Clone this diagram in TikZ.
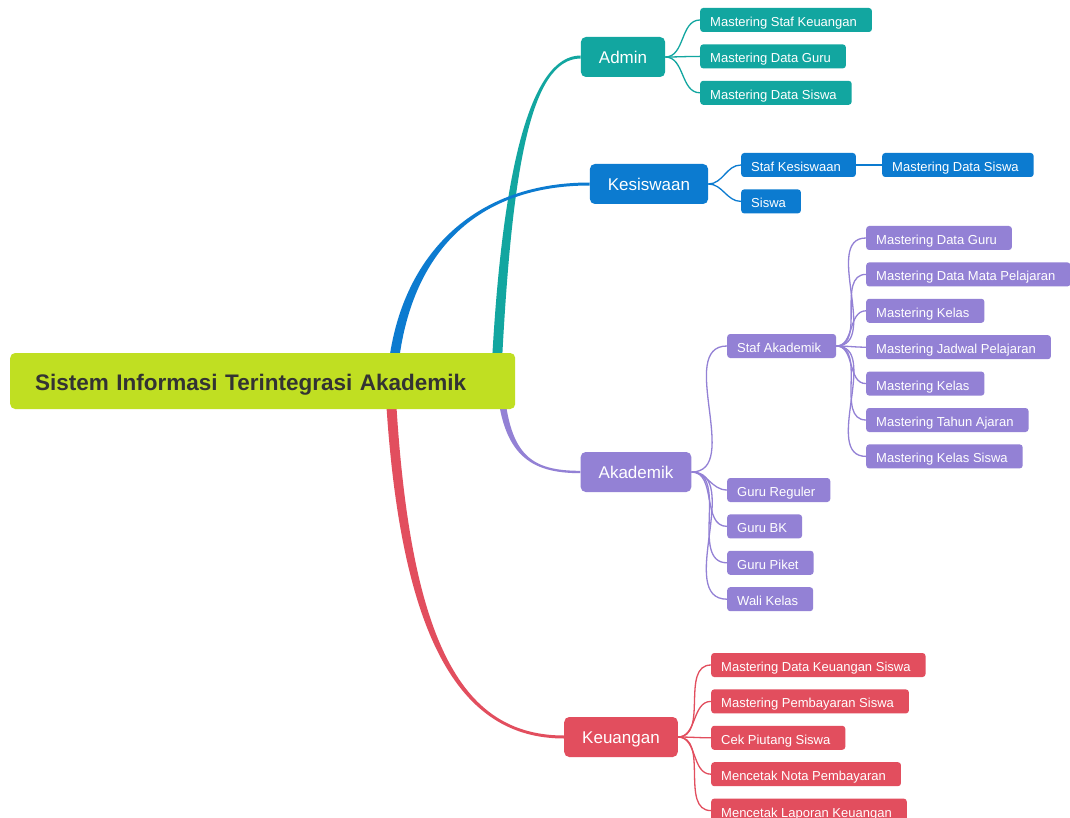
\documentclass[tikz,border=0pt]{standalone}
\usepackage{fontspec}
\setmainfont{Liberation Sans}
\usetikzlibrary{positioning,calc,backgrounds}
\definecolor{mmroot}{HTML}{C0DF22}
\definecolor{mmadm}{HTML}{12A6A0}
\definecolor{mmkes}{HTML}{0C7BD0}
\definecolor{mmaka}{HTML}{9381D5}
\definecolor{mmkeu}{HTML}{E24E5E}

\begin{document}
\begin{tikzpicture}[x=1pt, y=-1pt,
        rootbox/.style={fill=mmroot, rounded corners=5pt, minimum height=56pt, text width=455pt,
                    inner xsep=25pt, align=left, text=black!80, anchor=west, text height=18pt, text depth=0pt,
                    font=\fontsize{22.5}{26}\selectfont\bfseries},
        branch/.style={fill=#1, rounded corners=5pt, minimum height=40pt, inner xsep=18pt,
                    text height=12.6pt, text depth=0pt, text=white, font=\fontsize{17}{20}\selectfont},
        leaf/.style={fill=#1, rounded corners=3pt, minimum height=24pt, inner xsep=10pt, inner ysep=0pt,
                    text height=12.8pt, text depth=0pt, text=white, anchor=west, font=\fontsize{13}{15}\selectfont,
                    execute at end node={\hspace{5pt}}},
        under/.style={below=of #1.south west, anchor=north west},
        twig/.style={draw=#1, line width=1.3pt},
        node distance=12pt]
        \useasboundingbox (0,0) rectangle (1070,818);
        \node[rootbox] (root) at (10,381) {Sistem Informasi Terintegrasi Akademik};
        \node[branch=mmadm] (adm) at (623,57) {Admin};
        \node[branch=mmkes] (kes) at (649,184) {Kesiswaan};
        \node[branch=mmaka] (aka) at (636,472) {Akademik};
        \node[branch=mmkeu] (keu) at (621,737) {Keuangan};
        % admin
        \node[leaf=mmadm] (adm1) at (700,20) {Mastering Staf Keuangan};
        \node[leaf=mmadm, under=adm1] (adm2) {Mastering Data Guru};
        \node[leaf=mmadm, under=adm2] (adm3) {Mastering Data Siswa};
        % kesiswaan
        \node[leaf=mmkes] (kes1) at (741,165) {Staf Kesiswaan};
        \node[leaf=mmkes, under=kes1] (kes2) {Siswa};
        \node[leaf=mmkes] (kes11) at (882,165) {Mastering Data Siswa};
        % akademik
        \node[leaf=mmaka] (aka1) at (727,346) {Staf Akademik};
        \node[leaf=mmaka] (sa1) at (866,238) {Mastering Data Guru};
        \node[leaf=mmaka, under=sa1] (sa2) {Mastering Data Mata Pelajaran};
        \node[leaf=mmaka, under=sa2] (sa3) {Mastering Kelas};
        \node[leaf=mmaka, under=sa3] (sa4) {Mastering Jadwal Pelajaran};
        \node[leaf=mmaka, under=sa4] (sa5) {Mastering Kelas};
        \node[leaf=mmaka, under=sa5] (sa6) {Mastering Tahun Ajaran};
        \node[leaf=mmaka, under=sa6] (sa7) {Mastering Kelas Siswa};
        \node[leaf=mmaka] (aka2) at (727,490) {Guru Reguler};
        \node[leaf=mmaka, under=aka2] (aka3) {Guru BK};
        \node[leaf=mmaka, under=aka3] (aka4) {Guru Piket};
        \node[leaf=mmaka, under=aka4] (aka5) {Wali Kelas};
        % keuangan
        \node[leaf=mmkeu] (keu1) at (711,665) {Mastering Data Keuangan Siswa};
        \node[leaf=mmkeu, under=keu1] (keu2) {Mastering Pembayaran Siswa};
        \node[leaf=mmkeu, under=keu2] (keu3) {Cek Piutang Siswa};
        \node[leaf=mmkeu, under=keu3] (keu4) {Mencetak Nota Pembayaran};
        \node[leaf=mmkeu, under=keu4] (keu5) {Mencetak Laporan Keuangan};
        \begin{pgfonlayer}{background}
        \fill[white] (0,0) rectangle (1070,818);
        \coordinate (t1) at (496,381); \coordinate (t2) at (392,381);
        \coordinate (t3) at (500,381); \coordinate (t4) at (390,381);
        % tapered trunks
        \fill[mmadm] ($(t1)+(-5,0)$) .. controls (501,170) and (530,55.5) .. ($(adm.west)+(0,-1.5)$)
              -- ($(adm.west)+(0,1.5)$) .. controls (530,58.5) and (511,170) .. ($(t1)+(5,0)$) -- cycle;
        \fill[mmkes] ($(t2)+(-5,0)$) .. controls (395,260) and (470,182.5) .. ($(kes.west)+(0,-1.5)$)
              -- ($(kes.west)+(0,1.5)$) .. controls (470,185.5) and (405,260) .. ($(t2)+(5,0)$) -- cycle;
        \fill[mmaka] ($(t3)+(-3.5,0)$) .. controls (501.5,455) and (530,473.2) .. ($(aka.west)+(0,1.2)$)
              -- ($(aka.west)+(0,-1.2)$) .. controls (530,470.8) and (508.5,455) .. ($(t3)+(3.5,0)$) -- cycle;
        \fill[mmkeu] ($(t4)+(-5,0)$) .. controls (398,640) and (460,738.5) .. ($(keu.west)+(0,1.5)$)
              -- ($(keu.west)+(0,-1.5)$) .. controls (460,735.5) and (408,640) .. ($(t4)+(5,0)$) -- cycle;
        % twigs
        \draw[twig=mmadm] (adm.east) to[out=0,in=180] (adm1.west); \draw[twig=mmadm] (adm.east) to[out=0,in=180] (adm2.west);
        \draw[twig=mmadm] (adm.east) to[out=0,in=180] (adm3.west);
        \draw[twig=mmkes] (kes.east) to[out=0,in=180] (kes1.west); \draw[twig=mmkes] (kes.east) to[out=0,in=180] (kes2.west);
        \draw[twig=mmkes] (kes1.east) -- (kes11.west);
        \draw[twig=mmaka] (aka.east) to[out=0,in=180] (aka1.west); \draw[twig=mmaka] (aka.east) to[out=0,in=180] (aka2.west);
        \draw[twig=mmaka] (aka.east) to[out=0,in=180] (aka3.west); \draw[twig=mmaka] (aka.east) to[out=0,in=180] (aka4.west);
        \draw[twig=mmaka] (aka.east) to[out=0,in=180] (aka5.west);
        \draw[twig=mmaka] (aka1.east) to[out=0,in=180] (sa1.west); \draw[twig=mmaka] (aka1.east) to[out=0,in=180] (sa2.west);
        \draw[twig=mmaka] (aka1.east) to[out=0,in=180] (sa3.west); \draw[twig=mmaka] (aka1.east) to[out=0,in=180] (sa4.west);
        \draw[twig=mmaka] (aka1.east) to[out=0,in=180] (sa5.west); \draw[twig=mmaka] (aka1.east) to[out=0,in=180] (sa6.west);
        \draw[twig=mmaka] (aka1.east) to[out=0,in=180] (sa7.west);
        \draw[twig=mmkeu] (keu.east) to[out=0,in=180] (keu1.west); \draw[twig=mmkeu] (keu.east) to[out=0,in=180] (keu2.west);
        \draw[twig=mmkeu] (keu.east) to[out=0,in=180] (keu3.west); \draw[twig=mmkeu] (keu.east) to[out=0,in=180] (keu4.west);
        \draw[twig=mmkeu] (keu.east) to[out=0,in=180] (keu5.west);
        \end{pgfonlayer}
      \end{tikzpicture}
\end{document}
